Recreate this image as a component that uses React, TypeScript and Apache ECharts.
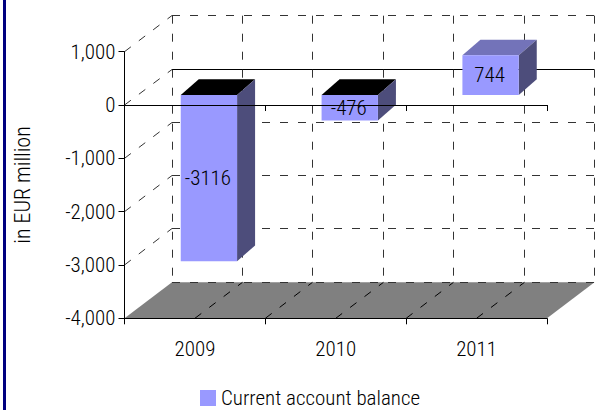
import React, { useEffect, useRef } from "react";
import * as echarts from "echarts";

const categories = ["2009", "2010", "2011"];
const balance = [-3116, -476, 744];
const seriesName = "Current account balance";
const axisTitle = "in EUR million";
const yTicks = [1000, 0, -1000, -2000, -3000, -4000];
const halfSteps = [0, 1, 2, 3, 4, 5, 6];

const FONT = "'Roboto Condensed', 'Liberation Sans', sans-serif";
const FS = 21;
const WEIGHT = 300;
const TEXT = "#000";
const DEPTH_X = 47.5;
const DEPTH_Y = 36;
const BAR_SHIFT_X = 14;
const BAR_SHIFT_Y = -10;
const BAR_DX = 18;
const BAR_DY = 15.7;
const DASH = [8, 10];
const dashStyle = { stroke: "#333", lineWidth: 1, lineDash: DASH, fill: "none" };
const crisp = (v: number) => Math.floor(v) + 0.5;

export default function App() {
  const ref = useRef<HTMLDivElement>(null);
  useEffect(() => {
    document.body.style.margin = "0";
    const chart = echarts.init(ref.current!, null, { renderer: "svg" });
    chart.setOption({
      animation: false,
      backgroundColor: "#fff",
      textStyle: { fontFamily: FONT },
      graphic: [
        { type: "rect", shape: { x: 3, y: 0, width: 3, height: 410 }, style: { fill: "#000080" } },
      ],
      grid: { left: 124.5, right: 50, top: 51.7, bottom: 91.7, containLabel: false, outerBoundsMode: "none" },
      legend: {
        left: 200,
        top: 387.5,
        padding: 0,
        data: [seriesName],
        itemWidth: 16,
        itemHeight: 16,
        itemGap: 6,
        icon: "rect",
        textStyle: { fontFamily: FONT, fontSize: FS, fontWeight: WEIGHT, color: TEXT },
      },
      xAxis: [
        {
          type: "category",
          data: categories,
          position: "bottom",
          z: 5,
          axisLine: { onZero: false, lineStyle: { color: "#000", width: 1 } },
          axisTick: { show: true, length: 6, lineStyle: { color: "#000" } },
          axisLabel: { fontFamily: FONT, fontSize: FS, fontWeight: WEIGHT, color: TEXT, margin: 20 },
          splitLine: { show: false },
        },
        {
          type: "category",
          data: categories,
          position: "bottom",
          z: 5,
          axisLine: { onZero: true, lineStyle: { color: "#000", width: 1 } },
          axisTick: { show: true, length: 6, lineStyle: { color: "#000" } },
          axisLabel: { show: false },
          splitLine: { show: false },
        },
      ],
      yAxis: {
        type: "value",
        min: -4000,
        max: 1000,
        interval: 1000,
        z: 5,
        name: axisTitle,
        nameLocation: "middle",
        nameGap: 91,
        nameRotate: 90,
        nameTextStyle: { fontFamily: FONT, fontSize: 22, fontWeight: WEIGHT, color: TEXT },
        axisLine: { show: true, onZero: false, lineStyle: { color: "#000", width: 1 } },
        axisTick: { show: true, length: 6, lineStyle: { color: "#000" } },
        axisLabel: { fontFamily: FONT, fontSize: FS, fontWeight: WEIGHT, color: TEXT, margin: 9 },
        splitLine: { show: false },
      },
      series: [
        {
          type: "custom",
          name: "floor",
          silent: true,
          z: 1,
          data: [[-4000]],
          renderItem: (params: any, api: any) => {
            const c = params.coordSys;
            const y = api.coord([0, api.value(0)])[1];
            const l = c.x;
            const r = c.x + c.width;
            return {
              type: "polygon",
              shape: {
                points: [
                  [l, y],
                  [r, y],
                  [r + DEPTH_X, y - DEPTH_Y],
                  [l + DEPTH_X, y - DEPTH_Y],
                ],
              },
              style: { fill: "#808080" },
            };
          },
        },
        {
          type: "custom",
          name: "walls",
          silent: true,
          z: 2,
          data: yTicks.map((v) => [v]),
          renderItem: (params: any, api: any) => {
            const c = params.coordSys;
            const v = api.value(0);
            const y = api.coord([0, v])[1];
            const l = c.x;
            const r = c.x + c.width;
            const by = crisp(y - DEPTH_Y);
            const children: any[] = [
              {
                type: "line",
                shape: { x1: l + DEPTH_X, y1: by, x2: r + DEPTH_X, y2: by },
                style: v === 0 ? { stroke: "#000", lineWidth: 1, fill: "none" } : dashStyle,
              },
            ];
            if (v !== -4000) {
              children.push({
                type: "line",
                shape: { x1: l, y1: y, x2: l + DEPTH_X, y2: by },
                style: dashStyle,
              });
            }
            return { type: "group", children };
          },
        },
        {
          type: "custom",
          name: "verticals",
          silent: true,
          z: 2,
          data: halfSteps.map((s) => [s]),
          renderItem: (params: any, api: any) => {
            const c = params.coordSys;
            const s = api.value(0);
            const x = c.x + (c.width * s) / 6;
            const top = api.coord([0, 1000])[1];
            const bottom = api.coord([0, -4000])[1];
            const bx = crisp(x + DEPTH_X);
            const children: any[] = [
              {
                type: "line",
                shape: { x1: bx, y1: top - DEPTH_Y, x2: bx, y2: bottom - DEPTH_Y },
                style: dashStyle,
              },
            ];
            if (s > 0 && s < 6) {
              children.push({
                type: "line",
                shape: { x1: x, y1: bottom, x2: bx, y2: bottom - DEPTH_Y },
                style: { ...dashStyle, stroke: "#000" },
              });
            }
            return { type: "group", children };
          },
        },
        {
          type: "custom",
          name: seriesName,
          z: 3,
          itemStyle: { color: "#9999ff" },
          encode: { x: 0, y: 1 },
          data: categories.map((c, i) => [i, balance[i]]),
          renderItem: (_params: any, api: any) => {
            const i = api.value(0);
            const v = api.value(1);
            const bw = api.size([1, 0])[0] * 0.4;
            const p = api.coord([i, v]);
            const z = api.coord([i, 0]);
            const l = p[0] - bw / 2 + BAR_SHIFT_X;
            const r = l + bw;
            const yTop = Math.min(p[1], z[1]) + BAR_SHIFT_Y;
            const yBot = Math.max(p[1], z[1]) + BAR_SHIFT_Y;
            return {
              type: "group",
              children: [
                {
                  type: "polygon",
                  shape: {
                    points: [
                      [l, yTop],
                      [r, yTop],
                      [r + BAR_DX, yTop - BAR_DY],
                      [l + BAR_DX, yTop - BAR_DY],
                    ],
                  },
                  style: { fill: v < 0 ? "#000" : "#7373b9" },
                },
                {
                  type: "polygon",
                  shape: {
                    points: [
                      [r, yTop],
                      [r + BAR_DX, yTop - BAR_DY],
                      [r + BAR_DX, yBot - BAR_DY],
                      [r, yBot],
                    ],
                  },
                  style: { fill: "#4d4d7b" },
                },
                {
                  type: "rect",
                  shape: { x: l, y: yTop, width: bw, height: yBot - yTop },
                  style: { fill: "#9999ff" },
                },
                {
                  type: "text",
                  z2: 20,
                  style: {
                    x: (l + r) / 2 - 1,
                    y: (yTop + yBot) / 2,
                    text: String(v),
                    align: "center",
                    verticalAlign: "middle",
                    fill: TEXT,
                    fontFamily: FONT,
                    fontSize: FS,
                    fontWeight: WEIGHT,
                  },
                },
              ],
            };
          },
        },
      ],
    });
    return () => chart.dispose();
  }, []);
  return <div ref={ref} style={{ width: 597, height: 410 }} />;
}
